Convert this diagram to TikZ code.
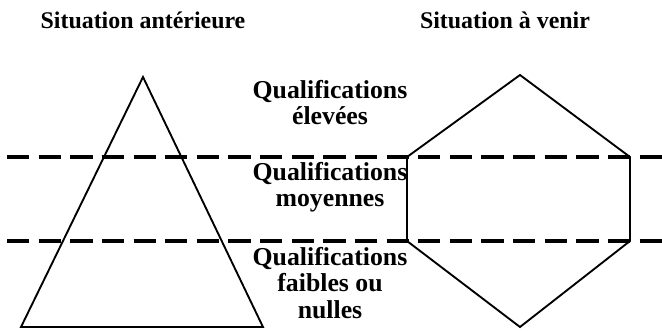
\documentclass[tikz,border=0pt]{standalone}
\usepackage{fontspec}
\setmainfont{Liberation Serif}
\usepackage{tikz}
\usetikzlibrary{positioning,calc}
\tikzset{
  heading/.style={font=\bfseries\fontsize{20.4}{22}\selectfont, inner sep=0pt, anchor=base},
  level/.style={font=\bfseries\fontsize{22}{22.5}\selectfont, align=center, inner sep=0pt, anchor=north},
  outline/.style={draw, line width=1.6pt, line join=miter},
  border/.style={draw, line width=2.6pt, dash pattern=on 19pt off 8pt},
}

\begin{document}
\begin{tikzpicture}[x=0.03cm, y=-0.03cm]
        \useasboundingbox (0,0) rectangle (662,330);
        % borders between levels
        \draw[border] (7,157) -- (662,157);
        \draw[border] (7,241) -- (662,241);
        % before: pyramid
        \draw[outline] (143,77) -- (263,327) -- (21,327) -- cycle;
        % after: hexagon
        \draw[outline] (520,75) -- (630,157) -- (630,241) -- (520,327) -- (407,241) -- (407,157) -- cycle;
        \node[heading] (before) at (143,28) {Situation antérieure};
        \node[heading] (after) at (505,28) {Situation à venir};
        \node[level] (high) at (330,80) {Qualifications\\élevées};
        \node[level] (mid) at (330,162) {Qualifications\\moyennes};
        \node[level] (low) at (330,247) {Qualifications\\faibles ou\\nulles};
      \end{tikzpicture}
\end{document}
